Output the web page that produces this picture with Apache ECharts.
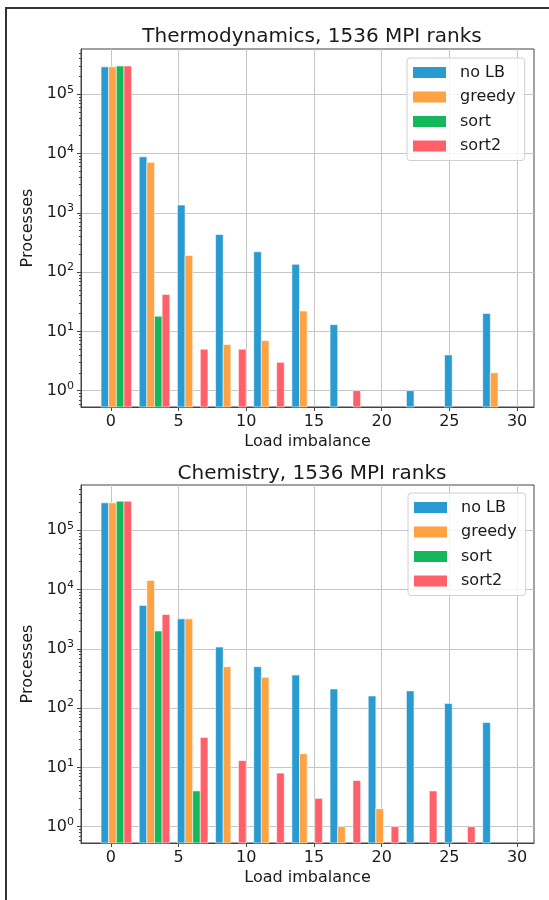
<!DOCTYPE html>
<html>
<head>
<meta charset="utf-8">
<title>Load imbalance histograms</title>
<script src="https://cdn.jsdelivr.net/npm/echarts@6/dist/echarts.min.js"></script>
<style>
html, body { margin: 0; padding: 0; background: #fff; }
#frame { position: absolute; left: 5px; top: 7px; width: 550px; height: 900px;
         border-left: 2px solid #333; border-top: 2px solid #333; }
#chart { position: absolute; left: 0; top: 0; width: 549px; height: 900px; }
</style>
</head>
<body>
<div id="frame"></div>
<div id="chart"></div>
<script>
// legend names / colours
const seriesNames = ['no LB', 'greedy', 'sort', 'sort2'];
const seriesColors = ['#2a9bd1', '#ffa244', '#14b85b', '#ff606a'];

// histogram bins: 11 bins between -1 and 30
const binStart = -1, binEnd = 30, binCount = 11;

const xTicks = [0, 5, 10, 15, 20, 25, 30];
const yTicks = [1, 10, 100, 1000, 10000, 100000];

// Thermodynamics, counts per bin
const thermoNoLB   = [290000, 8800, 1350, 430, 220, 135, 13, 0, 1, 4, 20];
const thermoGreedy = [290000, 7100, 190, 6, 7, 22, 0, 0, 0, 0, 2];
const thermoSort   = [300000, 18, 0, 0, 0, 0, 0, 0, 0, 0, 0];
const thermoSort2  = [300000, 42, 5, 5, 3, 0, 1, 0, 0, 0, 0];

// Chemistry, counts per bin
const chemNoLB   = [290000, 5400, 3200, 1070, 500, 360, 210, 160, 195, 120, 57];
const chemGreedy = [290000, 14200, 3200, 500, 330, 17, 1, 2, 0, 0, 0];
const chemSort   = [310000, 2000, 4, 0, 0, 0, 0, 0, 0, 0, 0];
const chemSort2  = [310000, 3800, 32, 13, 8, 3, 6, 1, 4, 1, 0];

const xMin = -2.2, xMax = 31.25;
const yMin = 0.53, yMax = 5.8e5;

// log minor ticks (2..9 x 10^k)
const minorTicks = [];
for (let e = -1; e <= 5; e++) {
    for (let m = 2; m <= 9; m++) {
        const v = m * Math.pow(10, e);
        if (v > yMin && v < yMax) minorTicks.push(v);
    }
}

const binW = (binEnd - binStart) / binCount;
const textColor = '#1a1a1a';

var chartDom = document.getElementById('chart');
var myChart = echarts.init(chartDom);

function barData(values, k) {
    // matplotlib style: 4 bars share 80% of each bin
    var out = [];
    values.forEach(function (v, i) {
        if (v <= 0) return;
        var left = binStart + i * binW + binW * (0.1 + 0.2 * k);
        out.push([left, left + binW * 0.2, v]);
    });
    return out;
}

function renderBar(params, api) {
    var a = api.coord([api.value(0), api.value(2)]);
    var b = api.coord([api.value(1), api.value(2)]);
    var bottom = params.coordSys.y + params.coordSys.height;
    return {
        type: 'rect',
        shape: { x: a[0], y: a[1], width: b[0] - a[0], height: bottom - a[1] },
        style: { fill: api.visual('color'), stroke: 'rgba(255,255,255,0.55)', lineWidth: 1 }
    };
}

function makeSeries(list, gridIdx) {
    return list.map(function (vals, k) {
        return {
            name: seriesNames[k],
            type: 'custom',
            xAxisIndex: gridIdx,
            yAxisIndex: gridIdx * 2,
            itemStyle: { color: seriesColors[k] },
            encode: { x: [0, 1], y: 2 },
            renderItem: renderBar,
            data: barData(vals, k)
        };
    });
}

function xAxisCfg(gridIdx) {
    return {
        type: 'value',
        gridIndex: gridIdx,
        position: 'bottom',
        min: xMin,
        max: xMax,
        name: 'Load imbalance',
        nameLocation: 'middle',
        nameGap: 27,
        nameTextStyle: { fontSize: 16, color: textColor, fontFamily: 'DejaVu Sans' },
        axisLine: { show: true, onZero: false, lineStyle: { color: '#444', width: 1 } },
        axisTick: { show: true, length: 4, customValues: xTicks, lineStyle: { color: '#444' } },
        axisLabel: { customValues: xTicks, fontSize: 16, color: textColor, margin: 7, fontFamily: 'DejaVu Sans' },
        splitLine: { show: true, lineStyle: { color: '#c6c6c6', width: 1 } }
    };
}

function yAxisCfg(gridIdx) {
    return {
        type: 'log',
        logBase: 10,
        gridIndex: gridIdx,
        position: 'left',
        min: yMin,
        max: yMax,
        name: 'Processes',
        nameLocation: 'middle',
        nameGap: 43,
        nameTextStyle: { fontSize: 16, color: textColor, fontFamily: 'DejaVu Sans' },
        axisLine: { show: true, onZero: false, lineStyle: { color: '#444', width: 1 } },
        axisTick: { show: true, length: 4, customValues: yTicks, lineStyle: { color: '#444' } },
        axisLabel: {
            customValues: yTicks,
            margin: 7,
            formatter: function (v) {
                return '{b|10}{s|' + Math.round(Math.log10(v)) + '}';
            },
            rich: {
                b: { fontSize: 16, lineHeight: 20, color: textColor, fontFamily: 'DejaVu Sans' },
                s: { fontSize: 11, lineHeight: 12, verticalAlign: 'top', color: textColor, fontFamily: 'DejaVu Sans' }
            }
        },
        splitLine: { show: true, lineStyle: { color: '#c6c6c6', width: 1 } }
    };
}

function minorAxisCfg(gridIdx) {
    return {
        type: 'log',
        logBase: 10,
        gridIndex: gridIdx,
        position: 'left',
        offset: 0,
        min: yMin,
        max: yMax,
        axisLine: { show: false, onZero: false },
        axisTick: { show: true, length: 2, customValues: minorTicks, lineStyle: { color: '#444' } },
        axisLabel: { show: false },
        splitLine: { show: false }
    };
}

function legendCfg(left, top) {
    return {
        left: left,
        top: top,
        orient: 'vertical',
        icon: 'rect',
        itemWidth: 33,
        itemHeight: 11,
        itemGap: 5.5,
        padding: [5, 9, 5, 6],
        backgroundColor: 'rgba(255,255,255,0.8)',
        borderColor: '#d0d0d0',
        borderWidth: 1,
        borderRadius: 3,
        textStyle: { fontSize: 16, lineHeight: 19, color: textColor, fontFamily: 'DejaVu Sans', padding: [0, 0, 0, 9] },
        data: seriesNames
    };
}

var option = {
    animation: false,
    textStyle: { fontFamily: 'DejaVu Sans' },
    title: [
        { text: 'Thermodynamics, 1536 MPI ranks', left: 307, top: 22, textAlign: 'center',
          textStyle: { fontSize: 20, fontWeight: 'normal', color: textColor, fontFamily: 'DejaVu Sans' } },
        { text: 'Chemistry, 1536 MPI ranks', left: 307, top: 459, textAlign: 'center',
          textStyle: { fontSize: 20, fontWeight: 'normal', color: textColor, fontFamily: 'DejaVu Sans' } }
    ],
    legend: [legendCfg(407, 58), legendCfg(408, 493)],
    grid: [
        { left: 81, right: 15, top: 49, height: 358, show: true, borderColor: '#444', borderWidth: 1 },
        { left: 81, right: 15, top: 485, height: 358, show: true, borderColor: '#444', borderWidth: 1 }
    ],
    xAxis: [xAxisCfg(0), xAxisCfg(1)],
    yAxis: [yAxisCfg(0), minorAxisCfg(0), yAxisCfg(1), minorAxisCfg(1)],
    series: makeSeries([thermoNoLB, thermoGreedy, thermoSort, thermoSort2], 0)
        .concat(makeSeries([chemNoLB, chemGreedy, chemSort, chemSort2], 1))
};

option && myChart.setOption(option);
</script>
</body>
</html>
